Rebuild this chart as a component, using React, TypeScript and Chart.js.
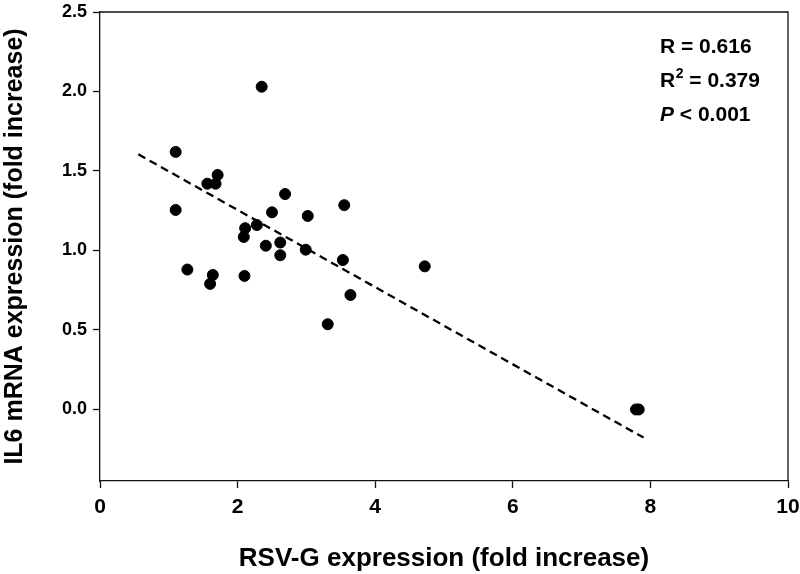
import React, { useEffect, useRef } from "react";
import { Chart, registerables } from "chart.js";

Chart.register(...registerables);

const RSVG_X = [2.35, 1.10, 1.71, 1.56, 1.68, 1.10, 2.69, 2.50, 3.02, 2.28, 2.11, 2.09, 2.41, 2.62, 2.62, 2.99, 1.27, 1.64, 1.60, 2.10, 3.55, 3.53, 3.64, 3.31, 4.72, 7.79, 7.83];
const IL6_Y = [2.03, 1.62, 1.475, 1.42, 1.42, 1.255, 1.355, 1.24, 1.217, 1.16, 1.14, 1.085, 1.03, 1.05, 0.97, 1.005, 0.88, 0.846, 0.79, 0.84, 1.285, 0.94, 0.72, 0.536, 0.90, 0.0, 0.0];
const FIT_X = [0.557, 7.90];
const FIT_Y = [1.605, -0.177];
const X_TICKS = [0, 2, 4, 6, 8, 10];
const Y_TICKS = [0, 0.5, 1.0, 1.5, 2.0, 2.5];
const STATS = { r: "0.616", r2: "0.379", p: "0.001" };
const X_TITLE = "RSV-G expression (fold increase)";
const Y_TITLE = "IL6 mRNA expression (fold increase)";

const FONT = '"Liberation Sans", Arial, Helvetica, sans-serif';

const framePlugin = {
  id: "frame",
  afterDatasetsDraw(chart: any) {
    const { ctx, chartArea } = chart;
    ctx.save();
    ctx.strokeStyle = "#111";
    ctx.lineWidth = 1.3;
    ctx.beginPath();
    ctx.moveTo(chartArea.left, chartArea.top);
    ctx.lineTo(chartArea.right, chartArea.top);
    ctx.lineTo(chartArea.right, chartArea.bottom);
    ctx.stroke();
    ctx.restore();
  },
};

const statsPlugin = {
  id: "stats",
  afterDraw(chart: any) {
    const { ctx } = chart;
    ctx.save();
    ctx.fillStyle = "#000";
    ctx.textBaseline = "alphabetic";
    ctx.textAlign = "left";
    const x0 = 660;
    const big = `bold 21px ${FONT}`;
    const small = `bold 14px ${FONT}`;
    ctx.font = big;
    ctx.fillText(`R = ${STATS.r}`, x0, 53);
    let x = x0;
    ctx.font = big;
    ctx.fillText("R", x, 87);
    x += ctx.measureText("R").width;
    ctx.font = small;
    ctx.fillText("2", x + 0.5, 78);
    x += ctx.measureText("2").width + 0.5;
    ctx.font = big;
    ctx.fillText(` = ${STATS.r2}`, x, 87);
    x = x0;
    ctx.font = `italic bold 21px ${FONT}`;
    ctx.fillText("P", x, 121);
    x += ctx.measureText("P").width;
    ctx.font = big;
    ctx.fillText(` < ${STATS.p}`, x, 121);
    ctx.restore();
  },
};

export default function App() {
  const ref = useRef<HTMLCanvasElement | null>(null);
  useEffect(() => {
    if (!ref.current) return;
    const points = RSVG_X.map((x, i) => ({ x, y: IL6_Y[i] }));
    const fit = FIT_X.map((x, i) => ({ x, y: FIT_Y[i] }));
    const chart = new Chart(ref.current, {
      type: "scatter",
      data: {
        datasets: [
          {
            type: "line",
            data: fit,
            borderColor: "#000",
            borderWidth: 2.3,
            borderDash: [8, 5],
            pointRadius: 0,
            fill: false,
          } as any,
          {
            data: points,
            backgroundColor: "#000",
            borderColor: "#000",
            pointRadius: 5.5,
            pointHoverRadius: 5.5,
          },
        ],
      },
      options: {
        responsive: false,
        animation: false,
        events: [],
        layout: { autoPadding: false, padding: { top: 12, right: 12, left: 0, bottom: 0 } } as any,
        plugins: {
          legend: { display: false },
          tooltip: { enabled: false },
          title: { display: false },
        },
        scales: {
          x: {
            type: "linear",
            min: 0,
            max: 10,
            afterFit: (s: any) => {
              s.height = 93;
              s.paddingLeft = 0;
              s.paddingRight = 0;
            },
            afterBuildTicks: (s: any) => {
              s.ticks = X_TICKS.map((v) => ({ value: v }));
            },
            grid: {
              drawOnChartArea: false,
              drawTicks: true,
              tickLength: 7,
              tickColor: "#111",
              tickWidth: 1.3,
            },
            border: { display: true, color: "#111", width: 1.3 },
            ticks: {
              color: "#000",
              padding: 7,
              font: { family: FONT, size: 21, weight: "bold" },
              callback: (v: any) => String(v),
            },
            title: {
              display: true,
              text: X_TITLE,
              color: "#000",
              font: { family: FONT, size: 26, weight: "bold" },
              padding: { top: 0, bottom: 0 },
            },
          },
          y: {
            type: "linear",
            min: -0.45,
            max: 2.5,
            afterFit: (s: any) => {
              s.width = 100;
              s.paddingTop = 0;
              s.paddingBottom = 0;
            },
            afterBuildTicks: (s: any) => {
              s.ticks = Y_TICKS.map((v) => ({ value: v }));
            },
            grid: {
              drawOnChartArea: false,
              drawTicks: true,
              tickLength: 7,
              tickColor: "#111",
              tickWidth: 1.3,
            },
            border: { display: true, color: "#111", width: 1.3 },
            ticks: {
              color: "#000",
              padding: 6,
              font: { family: FONT, size: 18, weight: "bold" },
              callback: (v: any) => Number(v).toFixed(1),
            },
            title: {
              display: true,
              text: Y_TITLE,
              color: "#000",
              font: { family: FONT, size: 25, weight: "bold" },
              padding: { top: 0, bottom: 0 },
            },
          },
        },
      },
      plugins: [framePlugin, statsPlugin],
    });
    return () => chart.destroy();
  }, []);
  return (
    <div style={{ position: "absolute", left: 0, top: 0, width: 800, height: 574, background: "#fff" }}>
      <canvas ref={ref} width={800} height={574} style={{ display: "block" }} />
    </div>
  );
}
